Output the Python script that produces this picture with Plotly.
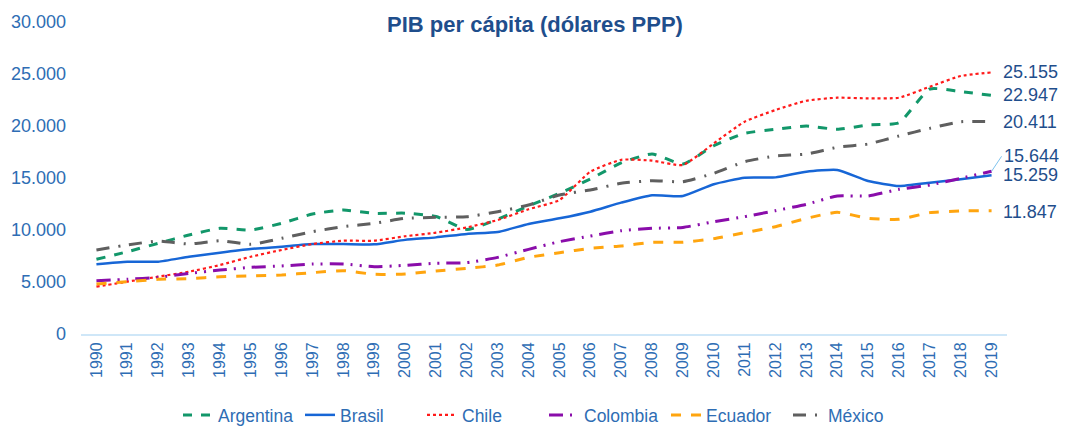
import plotly.graph_objects as go

years = [str(y) for y in range(1990, 2020)]

argentina = [7180, 7910, 8720, 9520, 10160, 10000, 10640, 11540, 11920, 11600,
             11620, 11300, 10060, 11030, 12310, 13530, 14900, 16450, 17310, 16350,
             18100, 19300, 19680, 20000, 19680, 20100, 20320, 23560, 23300, 22947]
brasil = [6700, 6950, 6950, 7430, 7820, 8170, 8400, 8650, 8650, 8620,
          9050, 9290, 9620, 9810, 10580, 11120, 11760, 12630, 13340, 13270,
          14400, 15030, 15060, 15610, 15770, 14710, 14230, 14550, 14870, 15259]
chile = [4550, 5030, 5510, 5990, 6630, 7430, 8080, 8650, 8970, 8970,
         9400, 9740, 10250, 10960, 11990, 12880, 15600, 16750, 16670, 16250,
         18330, 20410, 21540, 22430, 22720, 22660, 22720, 23780, 24807, 25155]
colombia = [5130, 5260, 5450, 5830, 6150, 6410, 6540, 6730, 6730, 6470,
            6600, 6800, 6860, 7370, 8140, 8880, 9420, 9930, 10160, 10250,
            10800, 11280, 11860, 12470, 13270, 13270, 13910, 14330, 14970, 15644]
ecuador = [4810, 5030, 5260, 5320, 5510, 5580, 5670, 5900, 6090, 5740,
           5770, 6060, 6310, 6630, 7370, 7820, 8240, 8460, 8820, 8820,
           9170, 9740, 10320, 11120, 11700, 11120, 11030, 11670, 11830, 11847]
mexico = [8080, 8560, 8940, 8650, 8970, 8620, 9200, 9840, 10320, 10640,
          11120, 11220, 11280, 11760, 12400, 13370, 13850, 14490, 14740, 14650,
          15450, 16570, 17115, 17300, 17950, 18270, 19040, 19775, 20410, 20411]

series = [
    ("Argentina", argentina, "#12976A", "dash", 3),
    ("Brasil", brasil, "#1766D6", "solid", 2.5),
    ("Chile", chile, "#FF1A1A", "dot", 2.2),
    ("Colombia", colombia, "#8A0DAA", "14px,7px,2px,7px,2px,7px", 3),
    ("Ecuador", ecuador, "#FFA50F", "10px,10px", 3),
    ("México", mexico, "#5F5F5F", "13px,9px,2px,9px", 3),
]

# page body has an 8px margin; size the figure so it fits the 1067x428 window
W, H, OFF = 1059, 420, 8

fig = go.Figure()
for name, vals, color, dash, w in series:
    fig.add_trace(go.Scatter(
        x=years, y=vals, name=name, mode="lines",
        line=dict(color=color, dash=dash, width=w, shape="spline", smoothing=0.5),
    ))

label_color = "#1F4E8C"
label_font = dict(size=18, color=label_color, family="Liberation Sans, Arial")
last_idx = len(years) - 1
for name, vals, color, dash, w in series:
    v = vals[-1]
    txt = f"{v:,}".replace(",", ".")
    if name == "Colombia":
        fig.add_annotation(x=last_idx, y=v, text=txt, showarrow=True,
                           arrowhead=0, arrowwidth=1, arrowcolor="#7EC3EE",
                           ax=10, ay=-15, xanchor="left", yanchor="middle",
                           font=label_font)
    else:
        fig.add_annotation(x=last_idx, y=v, text=txt, showarrow=False,
                           xanchor="left", yanchor="middle", xshift=9,
                           yshift=(-1 if name == "Ecuador" else 0),
                           font=label_font)

fig.update_layout(
    width=W, height=H,
    margin=dict(l=81 - OFF, r=60, t=22 - OFF, b=94, autoexpand=False),
    paper_bgcolor="white", plot_bgcolor="white",
    separators=",.",
    font=dict(family="Liberation Sans, Arial", color="#2E6DB4"),
    title=dict(text="<b>PIB per cápita (dólares PPP)</b>",
               x=(535 - OFF) / W, xanchor="center",
               y=1 - (24 - OFF) / H, yanchor="middle", yref="container",
               font=dict(size=22, color="#1F4E8C")),
    showlegend=True,
    legend=dict(orientation="h", xref="container", x=(178 - OFF) / W, xanchor="left",
                yref="container", y=1 - (415 - OFF) / H, yanchor="middle",
                font=dict(size=17.5, color="#2E6DB4"), itemwidth=30, tracegroupgap=0,
                entrywidth=77, entrywidthmode="pixels"),
    xaxis=dict(type="category", range=[-0.5, last_idx + 0.5], autorange=False,
               automargin=False,
               tickangle=-90, showgrid=False, showline=True,
               linecolor="#CFE7F8", linewidth=2, ticks="",
               tickfont=dict(size=16, color="#2E6DB4")),
    yaxis=dict(range=[0, 30000], dtick=5000, tickformat=",d", showgrid=False,
               automargin=False,
               zeroline=False, showline=False, ticks="", ticklen=0,
               ticklabelstandoff=14,
               tickfont=dict(size=18, color="#2E6DB4")),
)

fig.write_html("out.html")
